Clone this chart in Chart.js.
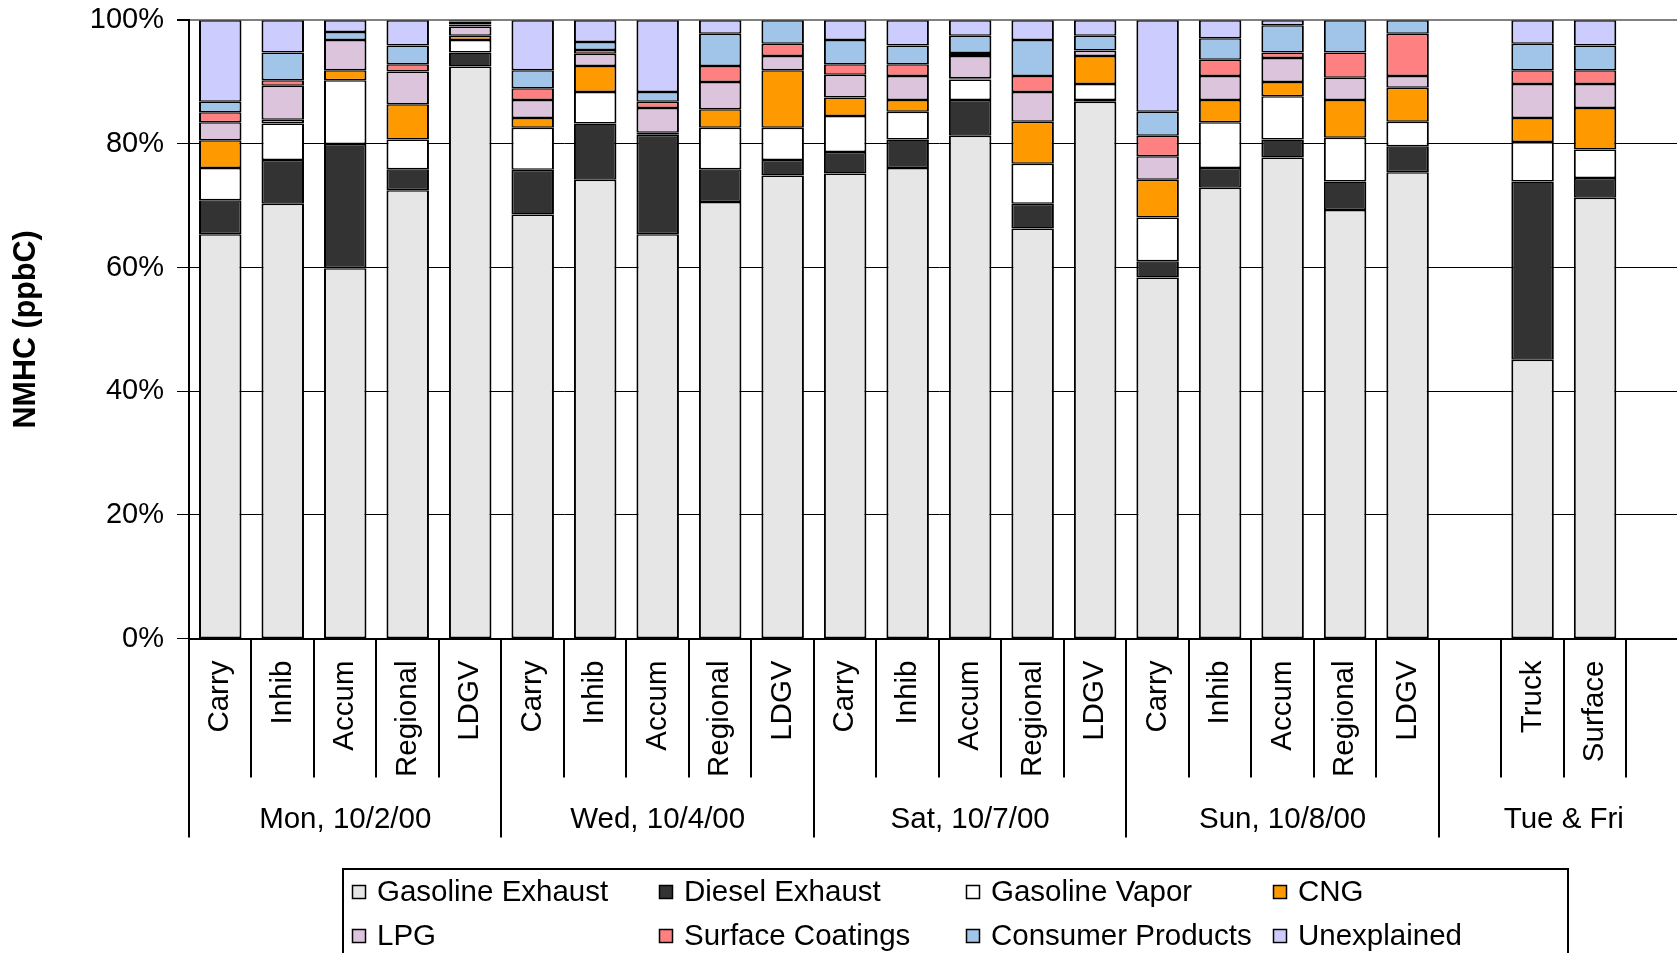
<!DOCTYPE html>
<html>
<head>
<meta charset="utf-8">
<script src="https://cdn.jsdelivr.net/npm/chart.js@4.4.0/dist/chart.umd.min.js"></script>
<style>
  html, body { margin: 0; padding: 0; background: #fff; overflow: hidden; }
  #wrap { width: 1715px; height: 953px; }
</style>
</head>
<body>
<div id="wrap"><canvas id="grafica" width="1715" height="953"></canvas></div>
<script>
// categorias (eje x) y grupos de dias
const categorias = [
  'Carry', 'Inhib', 'Accum', 'Regional', 'LDGV',
  'Carry', 'Inhib', 'Accum', 'Regional', 'LDGV',
  'Carry', 'Inhib', 'Accum', 'Regional', 'LDGV',
  'Carry', 'Inhib', 'Accum', 'Regional', 'LDGV',
  '', 'Truck', 'Surface', ''
];
const gruposTexto = ['Mon, 10/2/00', 'Wed, 10/4/00', 'Sat, 10/7/00', 'Sun, 10/8/00', 'Tue & Fri'];
const gruposTam = [5, 5, 5, 5, 4];
const ticksY = [0, 20, 40, 60, 80, 100];

// series (% de NMHC)
const nombres = ['Gasoline Exhaust', 'Diesel Exhaust', 'Gasoline Vapor', 'CNG', 'LPG', 'Surface Coatings', 'Consumer Products', 'Unexplained'];
const colores = ['#E6E6E6', '#333333', '#FFFFFF', '#FF9900', '#DCC4DC', '#FF8080', '#A0C5E9', '#CCCCFF'];

const gasExhaust = [65.4, 70.3, 59.9, 72.5, 92.5, 68.6, 74.2, 65.4, 70.6, 74.9, 75.2, 76.1, 81.3, 66.3, 86.8, 58.4, 72.9, 77.8, 69.3, 75.4, null, 45.1, 71.3, null];
const dieselExhaust = [5.5, 7.1, 20.1, 3.4, 2.3, 7.2, 9.1, 16.1, 5.3, 2.5, 3.5, 4.6, 5.8, 4.0, 0.3, 2.6, 3.2, 2.9, 4.6, 4.2, null, 28.8, 3.2, null];
const gasVapor = [5.2, 5.9, 10.3, 4.8, 2.0, 6.8, 5.1, 0.3, 6.7, 5.2, 5.8, 4.5, 3.3, 6.5, 2.6, 7.1, 7.4, 7.0, 7.1, 4.0, null, 6.4, 4.6, null];
const cng = [4.5, 0.6, 1.6, 5.7, 0.7, 1.6, 4.2, 0, 3.0, 9.3, 3.0, 1.9, 0.2, 6.8, 4.5, 6.1, 3.6, 2.3, 6.1, 5.5, null, 3.9, 6.7, null];
const lpg = [2.9, 5.5, 4.9, 5.3, 1.5, 2.9, 2.0, 4.0, 4.4, 2.3, 3.7, 3.9, 3.6, 4.8, 0.9, 3.8, 3.9, 3.9, 3.6, 1.9, null, 5.5, 3.9, null];
const surfCoat = [1.6, 0.9, 0, 1.2, 0.3, 1.9, 0.6, 1.0, 2.6, 2.0, 1.7, 1.9, 0.5, 2.6, 0, 3.3, 2.6, 0.9, 4.1, 6.8, null, 2.2, 2.2, null];
const consProd = [1.7, 4.5, 1.3, 3.0, 0.5, 2.9, 1.3, 1.6, 5.2, 3.8, 3.9, 3.0, 2.8, 5.8, 2.4, 3.9, 3.5, 4.4, 5.2, 2.2, null, 4.3, 4.0, null];
const unexplained = [13.2, 5.2, 1.9, 4.1, 0.2, 8.1, 3.5, 11.6, 2.2, 0, 3.2, 4.1, 2.5, 3.2, 2.5, 14.8, 2.9, 0.8, 0, 0, null, 3.8, 4.1, null];

const series = [gasExhaust, dieselExhaust, gasVapor, cng, lpg, surfCoat, consProd, unexplained];

const FUENTE = '"Liberation Sans", Arial, sans-serif';
Chart.defaults.font.family = FUENTE;
Chart.defaults.color = '#000';

// lineas y rotulos de grupo bajo el eje x
const ejeGrupos = {
  id: 'ejeGrupos',
  afterDraw(chart) {
    const ctx = chart.ctx;
    const x = chart.scales.x;
    const y0 = x.top;
    const n = categorias.length;
    const ancho = x.width / n;
    const bordes = new Set([0]);
    let acum = 0;
    gruposTam.forEach(t => { acum += t; bordes.add(acum); });

    ctx.save();
    ctx.strokeStyle = '#000';
    ctx.lineWidth = 2;
    for (let i = 0; i <= n; i++) {
      const px = Math.round(x.left + i * ancho);
      const largo = bordes.has(i) ? 199 : 139;
      ctx.beginPath();
      ctx.moveTo(px, y0);
      ctx.lineTo(px, y0 + largo);
      ctx.stroke();
    }
    ctx.font = '29.5px ' + FUENTE;
    ctx.fillStyle = '#000';
    ctx.textAlign = 'center';
    ctx.textBaseline = 'middle';
    acum = 0;
    gruposTexto.forEach((t, g) => {
      const cx = x.left + (acum + gruposTam[g] / 2) * ancho;
      ctx.fillText(t, cx, y0 + 181);
      acum += gruposTam[g];
    });
    ctx.restore();
  }
};

// leyenda en 4 columnas con marco
const leyenda = {
  id: 'leyenda',
  afterDraw(chart) {
    const ctx = chart.ctx;
    ctx.save();
    ctx.strokeStyle = '#000';
    ctx.lineWidth = 2;
    ctx.strokeRect(343, 869, 1225, 140);
    ctx.font = '29.5px ' + FUENTE;
    ctx.textBaseline = 'middle';
    ctx.textAlign = 'left';
    chart.data.datasets.forEach((ds, i) => {
      const col = i % 4, fila = Math.floor(i / 4);
      const bx = 352 + col * 307;
      const by = 892 + fila * 44;
      ctx.fillStyle = ds.backgroundColor;
      ctx.fillRect(bx, by - 7, 14, 14);
      ctx.lineWidth = 1.5;
      ctx.strokeRect(bx + 0.5, by - 6.5, 13, 13);
      ctx.fillStyle = '#000';
      ctx.fillText(ds.label, bx + 25, by + 1);
    });
    ctx.restore();
  }
};

const ctx = document.getElementById('grafica').getContext('2d');
new Chart(ctx, {
  type: 'bar',
  data: {
    labels: categorias,
    datasets: series.map((d, i) => ({
      label: nombres[i],
      data: d,
      backgroundColor: colores[i],
      borderColor: '#000',
      borderWidth: { top: 1.5, bottom: 1.5, left: 2, right: 2 },
      borderSkipped: false,
      barPercentage: 0.68,
      categoryPercentage: 1
    }))
  },
  options: {
    responsive: false,
    animation: false,
    devicePixelRatio: 1,
    layout: { padding: { top: 19, right: 2, bottom: 0, left: 0 } },
    plugins: {
      legend: { display: false },
      tooltip: { enabled: false }
    },
    scales: {
      x: {
        stacked: true,
        grid: { drawOnChartArea: false, drawTicks: false },
        border: { color: '#000', width: 2 },
        ticks: {
          autoSkip: false,
          minRotation: 90,
          maxRotation: 90,
          padding: 22,
          font: { size: 29.5 },
          color: '#000'
        },
        afterFit(scale) { scale.height = 314.5; }
      },
      y: {
        stacked: true,
        min: 0,
        max: 100,
        afterBuildTicks(scale) { scale.ticks = ticksY.map(v => ({ value: v })); },
        grid: {
          color: c => (c.tick && c.tick.value === 100) ? '#808080' : '#000',
          lineWidth: c => (c.tick && c.tick.value === 100) ? 2 : 1,
          tickColor: '#000',
          tickLength: 12
        },
        border: { color: '#000', width: 2 },
        ticks: {
          padding: 13,
          font: { size: 29, lineHeight: 0.5 },
          color: '#000',
          callback: v => v + '%'
        },
        title: {
          display: true,
          text: 'NMHC (ppbC)',
          font: { size: 30.5, weight: 'bold' },
          color: '#000',
          padding: { top: 8, bottom: 0 }
        },
        afterFit(scale) { scale.width = 189; }
      }
    }
  },
  plugins: [ejeGrupos, leyenda]
});
</script>
</body>
</html>
